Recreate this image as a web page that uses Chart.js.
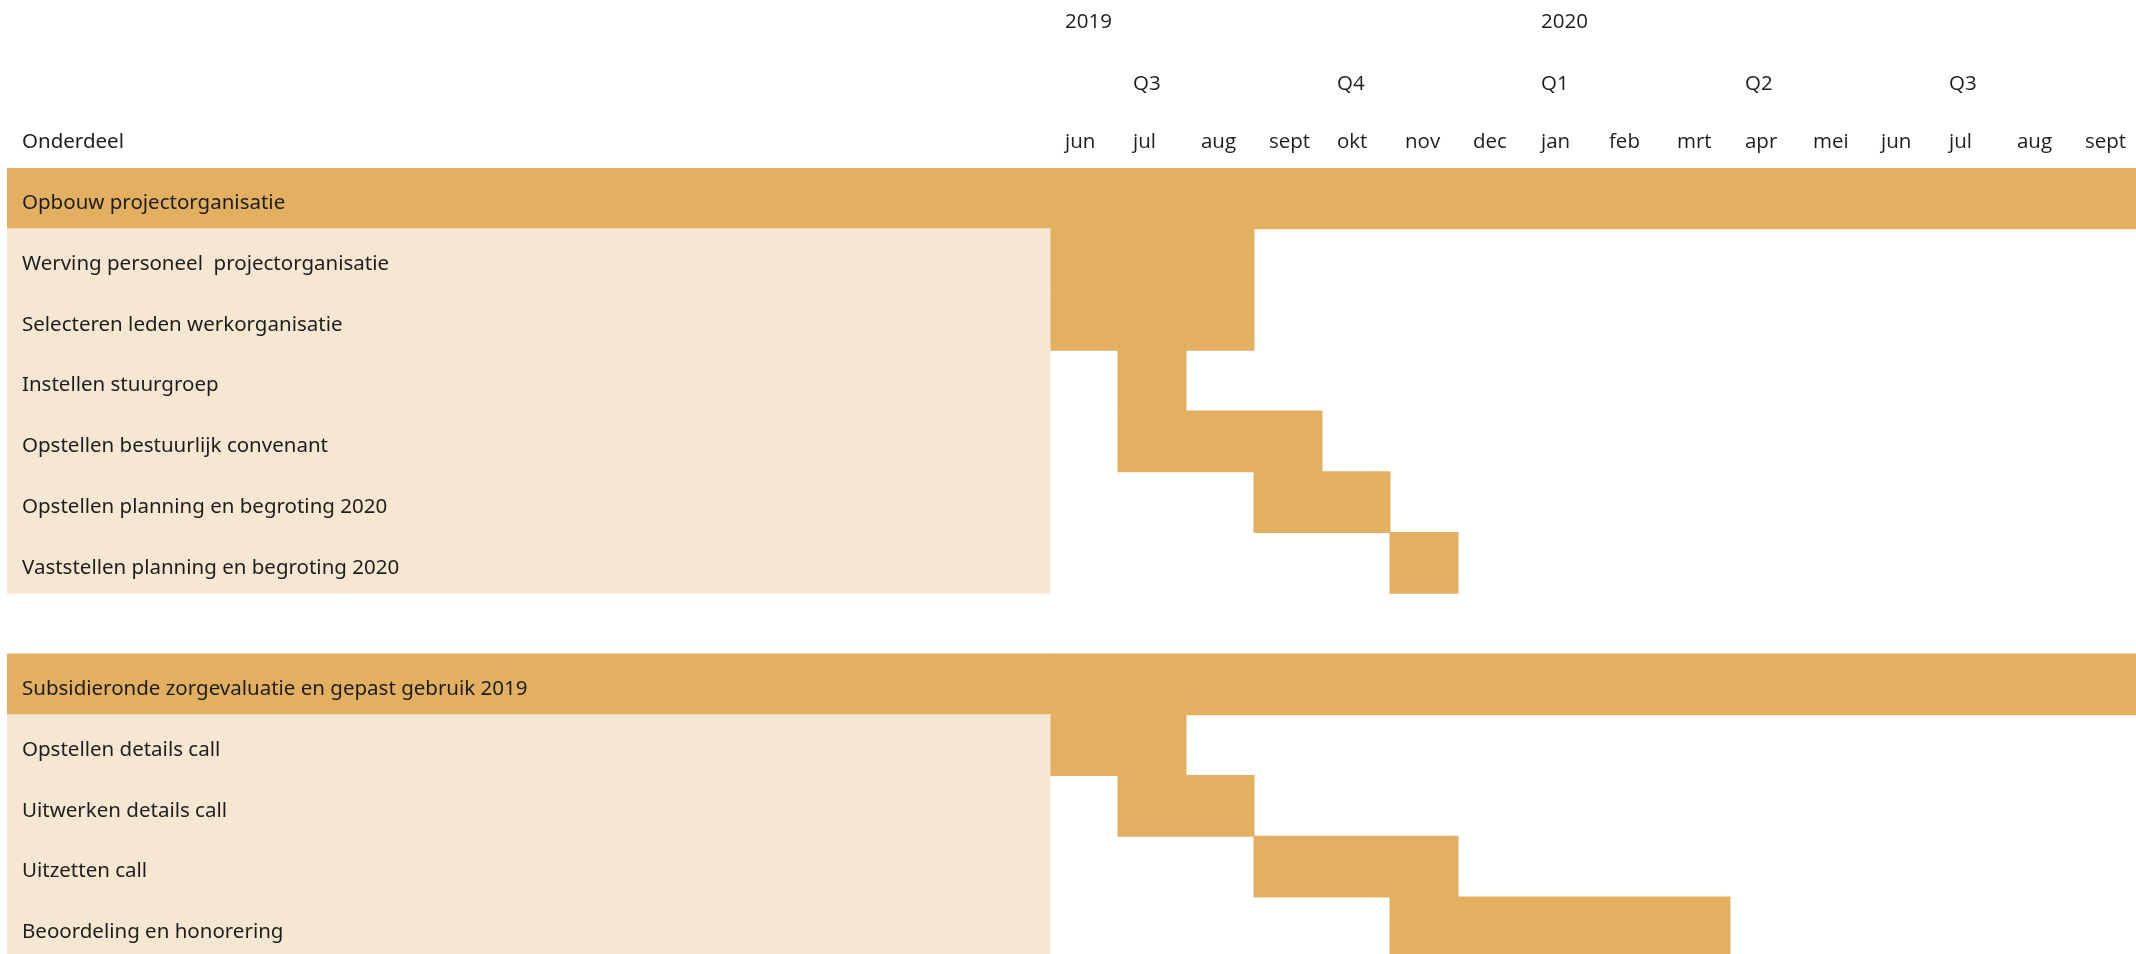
<!DOCTYPE html>
<html lang="nl">
<head>
  <meta charset="UTF-8">
  <title>Planning onderdelen</title>
  <script src="https://cdn.jsdelivr.net/npm/chart.js"></script>
  <style>
    html, body { margin: 0; padding: 0; background: #fff; overflow: hidden; }
    #planning { display: block; }
  </style>
</head>
<body>
  <canvas id="planning" width="2136" height="954"></canvas>

  <script>
    // maanden op de tijdas (index 0 = jun 2019)
    const months = ['jun', 'jul', 'aug', 'sept', 'okt', 'nov', 'dec', 'jan', 'feb', 'mrt', 'apr', 'mei', 'jun', 'jul', 'aug', 'sept'];
    const quarters = ['Q3', 'Q4', 'Q1', 'Q2', 'Q3'];
    const quarterStart = [1, 4, 7, 10, 13];
    const years = ['2019', '2020'];
    const yearStart = [0, 7];

    // rijen van de planning
    const rowLabels = [
      'Opbouw projectorganisatie',
      'Werving personeel  projectorganisatie',
      'Selecteren leden werkorganisatie',
      'Instellen stuurgroep',
      'Opstellen bestuurlijk convenant',
      'Opstellen planning en begroting 2020',
      'Vaststellen planning en begroting 2020',
      '',
      'Subsidieronde zorgevaluatie en gepast gebruik 2019',
      'Opstellen details call',
      'Uitwerken details call',
      'Uitzetten call',
      'Beoordeling en honorering'
    ];
    const rowType = ['group', 'task', 'task', 'task', 'task', 'task', 'task', 'gap', 'group', 'task', 'task', 'task', 'task'];
    // begin- en eindmaand (index in months, eind exclusief)
    const rowStart = [0, 0, 0, 1, 1, 3, 5, null, 0, 0, 1, 3, 5];
    const rowEnd = [16, 3, 3, 2, 4, 5, 6, null, 16, 2, 3, 6, 10];

    const DARK = '#e3b062';
    const LIGHT = '#f6e7d2';
    const TEXT = '#1d1d1b';

    // schaal: labelkolom links van maand 0
    const XMIN = -15.338;
    const XMAX = 15.971;
    const PAD = 15 / 68;
    const ROW_H = 60.75;
    const YMIN = -0.5;
    const YMAX = (954 - 168) / ROW_H - 0.5;

    const labelFont = { family: 'Noto Sans', size: 20.5 };
    const headFont = { family: 'Open Sans', size: 20.5 };

    const bgData = [];
    const bgColors = [];
    const barData = [];
    rowType.forEach((t, i) => {
      if (t === 'gap') return;
      bgData.push({ x: [XMIN, 0], y: i });
      bgColors.push(t === 'group' ? DARK : LIGHT);
      barData.push({ x: [rowStart[i], rowEnd[i]], y: i });
    });

    function topAxis(weight, height, padding, ticksFn, labelFn) {
      return {
        type: 'linear',
        position: 'top',
        min: XMIN,
        max: XMAX,
        offset: false,
        weight: weight,
        grid: { display: false, drawTicks: false },
        border: { display: false },
        afterBuildTicks: s => { s.ticks = ticksFn(); s.min = XMIN; s.max = XMAX; },
        afterFit: s => { s.height = height; s.paddingLeft = 0; s.paddingRight = 0; },
        ticks: {
          autoSkip: false,
          maxRotation: 0,
          minRotation: 0,
          align: 'start',
          padding: padding,
          color: TEXT,
          font: ctx => (weight === 0 && ctx.index === 0) ? labelFont : headFont,
          callback: (v, idx) => labelFn(idx)
        }
      };
    }

    const ctx = document.getElementById('planning').getContext('2d');
    new Chart(ctx, {
      type: 'bar',
      data: {
        datasets: [
          { label: 'Onderdeel', data: bgData, backgroundColor: bgColors, grouped: false, barPercentage: 1, categoryPercentage: 1, inflateAmount: 0.5 },
          { label: 'Planning', data: barData, backgroundColor: DARK, grouped: false, barPercentage: 1, categoryPercentage: 1, inflateAmount: 0.5 }
        ]
      },
      options: {
        indexAxis: 'y',
        responsive: false,
        animation: false,
        devicePixelRatio: 1,
        layout: { padding: 0, autoPadding: false },
        plugins: {
          legend: { display: false },
          title: { display: false },
          tooltip: {
            filter: item => item.datasetIndex === 1,
            callbacks: {
              title: items => rowLabels[items[0].raw.y],
              label: item => {
                const r = item.raw;
                return months[r.x[0]] + ' – ' + months[r.x[1] - 1];
              }
            }
          }
        },
        scales: {
          x: topAxis(0, ROW_H, 14,
            () => [{ value: XMIN + PAD }].concat(months.map((m, i) => ({ value: i + PAD }))),
            idx => idx === 0 ? 'Onderdeel' : months[idx - 1]),
          xq: topAxis(1, ROW_H, 11,
            () => quarterStart.map(q => ({ value: q + PAD })),
            idx => quarters[idx]),
          xy: topAxis(2, 168 - 2 * ROW_H, 12,
            () => yearStart.map(y => ({ value: y + PAD })),
            idx => years[idx]),
          y: {
            type: 'linear',
            reverse: true,
            offset: false,
            bounds: 'data',
            min: YMIN,
            max: YMAX,
            position: 'left',
            grid: { display: false, drawTicks: false, offset: false },
            border: { display: false },
            afterFit: s => { s.width = 7; s.paddingTop = 0; s.paddingBottom = 0; },
            afterBuildTicks: s => {
              s.ticks = rowLabels.map((l, i) => ({ value: i + 0.08 })).filter((t, i) => rowLabels[i] !== '');
              s.min = YMIN;
              s.max = YMAX;
            },
            ticks: {
              mirror: true,
              z: 1,
              autoSkip: false,
              padding: 15,
              color: TEXT,
              font: labelFont,
              callback: v => rowLabels[Math.round(v)]
            }
          }
        }
      }
    });
  </script>
</body>
</html>
